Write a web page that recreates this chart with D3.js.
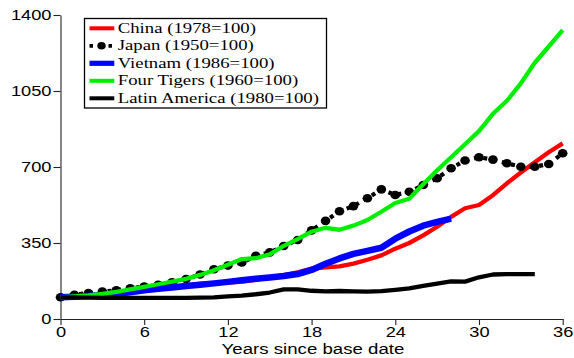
<!DOCTYPE html>
<html>
<head>
<meta charset="utf-8">
<script src="https://cdn.jsdelivr.net/npm/d3@7"></script>
<style>
  html, body { margin: 0; padding: 0; background: #fff; }
  svg { display: block; }
</style>
</head>
<body>
<svg id="chart" width="574" height="358"></svg>
<script>
// Output per capita, indexed to 100 at each economy's base year
const years = d3.range(0, 37);
const xTicks = [0, 6, 12, 18, 24, 30, 36];
const yTicks = [0, 350, 700, 1050, 1400];

const china = [100,104,108,113,118,124,131,138,146,155,162,165,168,172,180,190,202,215,
  232,238,242,255,273,293,324,350,385,425,470,510,525,570,625,675,722,768,809];
const japan = [100,112,120,126,132,141,149,157,169,184,205,229,246,260,291,307,336,364,
  408,452,496,520,556,597,571,586,617,648,694,730,745,734,717,701,701,714,763];
const vietnam = [100,103,106,110,116,123,132,139,145,152,158,164,171,178,185,191,198,207,
  226,254,279,300,314,328,370,403,430,447,462];
const fourTigers = [100,104,109,116,125,136,148,160,172,185,203,224,250,276,280,298,337,368,
  402,420,411,430,456,494,534,554,620,685,745,805,865,945,1005,1085,1180,1255,1330];
const latinAmerica = [100,100,98,97,97,97,97,97,97,97,98,100,104,108,114,122,136,136,
  130,127,129,127,126,128,134,141,153,163,173,172,192,205,207,207,207];

const seriesNames = ["China (1978=100)", "Japan (1950=100)", "Vietnam (1986=100)",
  "Four Tigers (1960=100)", "Latin America (1980=100)"];

const series = [
  { name: seriesNames[0], values: china,        color: "#ff0000", width: 4.3 },
  { name: seriesNames[1], values: japan,        color: "#000000", width: 4.2, dotted: true },
  { name: seriesNames[2], values: vietnam,      color: "#0000ff", width: 6.5 },
  { name: seriesNames[3], values: fourTigers,   color: "#00ee00", width: 4.3 },
  { name: seriesNames[4], values: latinAmerica, color: "#000000", width: 4.3 }
];

const svg = d3.select("#chart");
const SX = 1.26;   // horizontal stretch of the sans labels
const SXL = 1.34;  // horizontal stretch of the legend text

const x = d3.scaleLinear().domain([0, 36]).range([60.5, 562.7]);
const y = d3.scaleLinear().domain([0, 1400]).range([319, 15]);

// Axes
const gx = svg.append("g").attr("transform", `translate(0,${y(0)})`)
  .call(d3.axisBottom(x).tickValues(xTicks).tickFormat(d3.format("d"))
    .tickSize(6).tickPadding(2).tickSizeOuter(0));
const gy = svg.append("g").attr("transform", `translate(${x(0)},0)`)
  .call(d3.axisLeft(y).tickValues(yTicks).tickFormat(d3.format("d"))
    .tickSize(7).tickPadding(2).tickSizeOuter(0));

[gx, gy].forEach(g => {
  g.select(".domain").attr("stroke", "#222").attr("stroke-width", 1.1);
  g.selectAll(".tick line").attr("stroke", "#222").attr("stroke-width", 1.1);
  g.selectAll(".tick text")
    .attr("fill", "#000")
    .style("font-family", "'Liberation Sans', Arial, sans-serif")
    .style("font-size", "14.5px");
});
gx.selectAll(".tick text").attr("transform", `scale(${SX},1)`);
gy.selectAll(".tick text").attr("x", -9 / SX).attr("transform", `scale(${SX},1)`);

// Axis title
svg.append("text")
  .attr("transform", `translate(${x(18.1)},354) scale(${SX},1)`)
  .attr("text-anchor", "middle")
  .style("font-family", "'Liberation Sans', Arial, sans-serif")
  .style("font-size", "14.8px")
  .attr("fill", "#000")
  .text("Years since base date");

// Lines
const line = d3.line()
  .x((d, i) => x(years[i]))
  .y(d => y(d));

const plot = svg.append("g");
series.forEach(s => {
  const path = plot.append("path")
    .datum(s.values)
    .attr("fill", "none")
    .attr("stroke", s.color)
    .attr("stroke-width", s.width)
    .attr("stroke-linejoin", "round")
    .attr("stroke-linecap", "butt")
    .attr("d", line);
  if (s.dotted) {
    path.attr("stroke-dasharray", "4,5.5");
    plot.append("g").selectAll("ellipse")
      .data(s.values)
      .join("ellipse")
      .attr("cx", (d, i) => x(years[i]))
      .attr("cy", d => y(d))
      .attr("rx", 4.8)
      .attr("ry", 4.3)
      .attr("fill", s.color);
  }
});

// Legend
const legend = svg.append("g");
legend.append("rect")
  .attr("x", 84.5).attr("y", 18.5)
  .attr("width", 242).attr("height", 89.5)
  .attr("fill", "#fff")
  .attr("stroke", "#000")
  .attr("stroke-width", 1.3);

series.forEach((s, i) => {
  const cy = 28.3 + i * 17.5;
  if (s.dotted) {
    legend.append("line")
      .attr("x1", 89.5).attr("x2", 112.5)
      .attr("y1", cy).attr("y2", cy)
      .attr("stroke", s.color).attr("stroke-width", 3.8)
      .attr("stroke-dasharray", "3.5,15.5");
    legend.append("ellipse")
      .attr("cx", 101.5).attr("cy", cy)
      .attr("rx", 4.2).attr("ry", 3.8)
      .attr("fill", s.color);
  } else {
    legend.append("line")
      .attr("x1", 89.5).attr("x2", 114.3)
      .attr("y1", cy).attr("y2", cy)
      .attr("stroke", s.color)
      .attr("stroke-width", s.width > 5 ? 5.2 : 4);
  }
  legend.append("text")
    .attr("transform", `translate(117.7,${cy + 4.6}) scale(${SXL},1)`)
    .style("font-family", "'Liberation Serif', 'Times New Roman', serif")
    .style("font-size", "14px")
    .attr("fill", "#000")
    .text(s.name);
});
</script>
</body>
</html>
